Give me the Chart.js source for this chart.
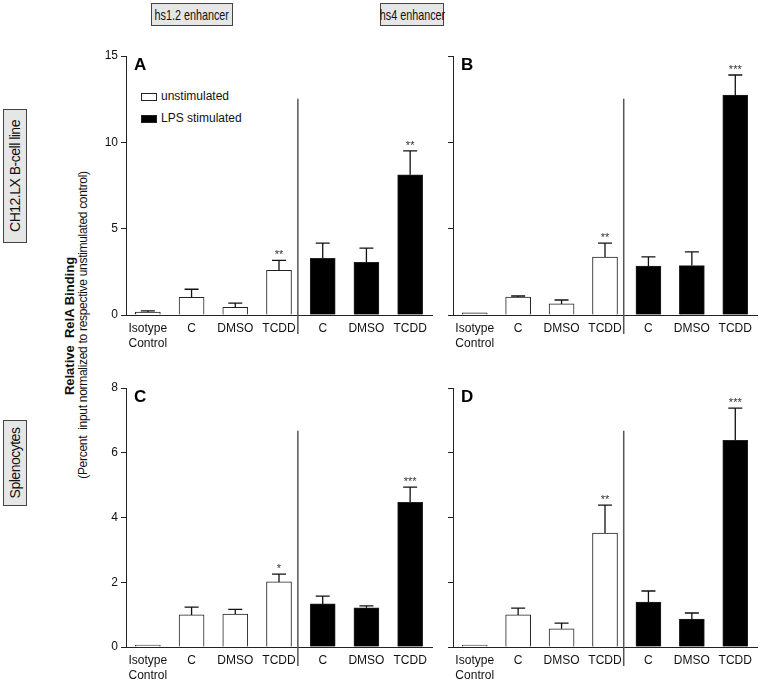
<!DOCTYPE html>
<html>
<head>
<meta charset="utf-8">
<script src="https://cdn.jsdelivr.net/npm/chart.js@4.4.0/dist/chart.umd.min.js"></script>
<style>
  body { margin: 0; background: #fff; font-family: "Liberation Sans", Arial, sans-serif; }
  #page { position: relative; width: 760px; height: 680px; overflow: hidden; }
  canvas { position: absolute; }
  .head { position: absolute; top: 3px; height: 23px; display: flex; justify-content: center; align-items: center; background: #e6e6e6; border: 1px solid #444; font-size: 15px; white-space: nowrap; color: #111; box-sizing: border-box; }
  .head span { display: inline-block; transform: scaleX(0.72); }
  .box { position: absolute; background: #e6e6e6; border: 1px solid #444; font-size: 14px; letter-spacing: -0.5px; white-space: nowrap; color: #111; text-align: center; box-sizing: border-box; }
  .rot { position: absolute; transform: translate(-50%, -50%) rotate(-90deg); white-space: nowrap; color: #111; }
  .leg { position: absolute; font-size: 12px; color: #111; }
  .sw { position: absolute; width: 16px; height: 8px; border: 1px solid #222; box-sizing: border-box; }
</style>
</head>
<body>
<div id="page">
  <div class="head" style="left:151px; width:82px;"><span>hs1.2 enhancer</span></div>
  <div class="head" style="left:380px; width:64px;"><span>hs4 enhancer</span></div>
  <div class="box rot" style="left:15px; top:176px; width:134px; height:24px; line-height:22px;">CH12.LX B-cell line</div>
  <div class="box rot" style="left:15px; top:463px; width:86px; height:24px; line-height:22px;">Splenocytes</div>
  <div class="rot" style="left:69px; top:326px; font-weight:bold; font-size:13px;">Relative&nbsp; RelA Binding</div>
  <div class="rot" style="left:83px; top:325px; font-size:12px; letter-spacing:-0.3px;">(Percent&nbsp; input normalized to respective unstimulated control)</div>

  <div class="sw" style="left:141px; top:93px; background:#fff;"></div>
  <div class="leg" style="left:161px; top:89px;">unstimulated</div>
  <div class="sw" style="left:141px; top:115px; background:#000;"></div>
  <div class="leg" style="left:161px; top:111px;">LPS stimulated</div>

  <canvas id="panel-a" width="354" height="320" style="left:86px; top:40px;"></canvas>
  <canvas id="panel-b" width="320" height="320" style="left:440px; top:40px;"></canvas>
  <canvas id="panel-c" width="354" height="308" style="left:86px; top:372px;"></canvas>
  <canvas id="panel-d" width="320" height="308" style="left:440px; top:372px;"></canvas>
</div>
<script>
const categories = [['Isotype', 'Control'], 'C', 'DMSO', 'TCDD', 'C', 'DMSO', 'TCDD'];
const barColors = ['#fff', '#fff', '#fff', '#fff', '#000', '#000', '#000'];

// hs1.2, CH12.LX
const meansA = [0.17, 1.02, 0.45, 2.58, 3.28, 3.05, 8.12];
const semsA = [0.07, 0.47, 0.24, 0.58, 0.88, 0.82, 1.38];
const starsA = ['', '', '', '**', '', '', '**'];

// hs4, CH12.LX
const meansB = [0.12, 1.04, 0.64, 3.36, 2.84, 2.86, 12.74];
const semsB = [0, 0.06, 0.23, 0.8, 0.53, 0.8, 1.16];
const starsB = ['', '', '', '**', '', '', '***'];

// hs1.2, splenocytes
const meansC = [0.03, 0.99, 1.02, 2.01, 1.33, 1.21, 4.47];
const semsC = [0, 0.24, 0.14, 0.24, 0.24, 0.06, 0.47];
const starsC = ['', '', '', '*', '', '', '***'];

// hs4, splenocytes
const meansD = [0.03, 0.99, 0.56, 3.52, 1.39, 0.86, 6.38];
const semsD = [0, 0.21, 0.18, 0.86, 0.34, 0.19, 1.0];
const starsD = ['', '', '', '**', '', '', '***'];

Chart.defaults.font.family = '"Liberation Sans", Arial, sans-serif';
Chart.defaults.color = '#111';

const extras = {
    id: 'extras',
    afterDraw(chart, args, opts) {
        const { ctx, chartArea, scales: { y } } = chart;
        const bars = chart.getDatasetMeta(0).data;
        ctx.save();
        ctx.strokeStyle = '#111';
        ctx.fillStyle = '#333';
        ctx.lineWidth = 1.3;
        ctx.font = '11px "Liberation Sans", Arial, sans-serif';
        ctx.textAlign = 'center';
        ctx.textBaseline = 'alphabetic';
        bars.forEach((bar, i) => {
            const top = y.getPixelForValue(opts.means[i] + opts.sems[i]);
            if (opts.sems[i] > 0) {
                ctx.beginPath();
                ctx.moveTo(bar.x, y.getPixelForValue(opts.means[i]));
                ctx.lineTo(bar.x, top);
                ctx.moveTo(bar.x - 7, top);
                ctx.lineTo(bar.x + 7, top);
                ctx.stroke();
            }
            if (opts.stars[i]) ctx.fillText(opts.stars[i], bar.x, top - 2);
        });
        // divider between unstimulated and LPS groups
        const xd = (bars[3].x + bars[4].x) / 2 - 3;
        ctx.strokeStyle = '#555';
        ctx.lineWidth = 1.5;
        ctx.beginPath();
        ctx.moveTo(xd, chartArea.top + (chartArea.bottom - chartArea.top) * 0.165);
        ctx.lineTo(xd, chartArea.bottom + 19);
        ctx.stroke();
        // panel letter
        ctx.fillStyle = '#000';
        ctx.font = 'bold 17px "Liberation Sans", Arial, sans-serif';
        ctx.textAlign = 'left';
        ctx.textBaseline = 'top';
        ctx.fillText(opts.letter, chartArea.left + 8, chartArea.top + 1);
        ctx.restore();
    }
};

function makePanel(id, means, sems, stars, letter, max, step, yWidth, xHeight, padRight, showLabels) {
    const ctx = document.getElementById(id).getContext('2d');
    return new Chart(ctx, {
        type: 'bar',
        data: {
            labels: categories,
            datasets: [{
                data: means,
                backgroundColor: barColors,
                borderColor: '#222',
                borderWidth: 1,
                barThickness: 25,
                minBarLength: 2
            }]
        },
        options: {
            responsive: false,
            animation: false,
            layout: { padding: { top: 16, right: padRight, bottom: 0, left: 0 } },
            plugins: {
                legend: { display: false },
                tooltip: { enabled: false },
                extras: { means: means, sems: sems, stars: stars, letter: letter }
            },
            scales: {
                x: {
                    grid: { display: false, drawTicks: false },
                    border: { display: true, color: '#222', width: 1 },
                    ticks: { font: { size: 12, lineHeight: 1.25 }, color: '#111', padding: 6, maxRotation: 0, autoSkip: false },
                    afterFit: (scale) => { scale.height = xHeight; }
                },
                y: {
                    min: 0,
                    max: max,
                    ticks: {
                        stepSize: step,
                        font: { size: 12 },
                        color: '#111',
                        padding: 3,
                        callback: (v) => showLabels ? v : ''
                    },
                    grid: { drawOnChartArea: false, drawTicks: true, tickLength: 5, color: '#222' },
                    border: { display: true, color: '#222', width: 1 },
                    afterFit: (scale) => { scale.width = yWidth; }
                }
            }
        },
        plugins: [extras]
    });
}

makePanel('panel-a', meansA, semsA, starsA, 'A', 15, 5, 40, 45, 8, true);
makePanel('panel-b', meansB, semsB, starsB, 'B', 15, 5, 13, 45, 3, false);
makePanel('panel-c', meansC, semsC, starsC, 'C', 8, 2, 40, 33, 8, true);
makePanel('panel-d', meansD, semsD, starsD, 'D', 8, 2, 13, 33, 3, false);
</script>
</body>
</html>
